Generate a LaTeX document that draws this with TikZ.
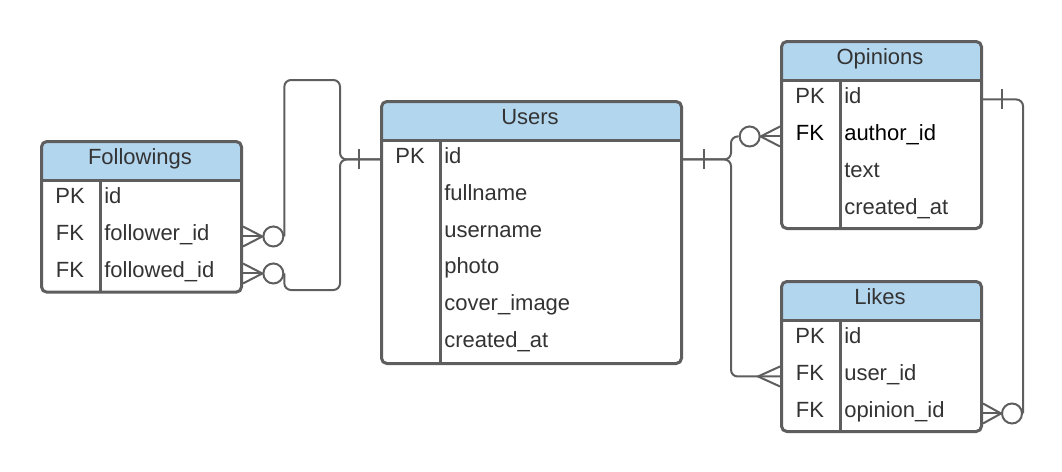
\documentclass[tikz,border=0pt]{standalone}
\usepackage{fontspec}
\setmainfont{Liberation Sans}
\usetikzlibrary{positioning}

\definecolor{headblue}{RGB}{179,214,239}
\definecolor{linegray}{RGB}{94,94,94}
\definecolor{textgray}{RGB}{51,51,51}

\begin{document}
\begin{tikzpicture}[x=0.75pt, y=-0.75pt,
  font=\fontsize{16.5}{19}\selectfont,
  tablebox/.style={draw=linegray, line width=2.25pt, fill=white, rounded corners=4pt,
    anchor=north west, inner sep=0pt,
    path picture={\fill[headblue] (path picture bounding box.north west)
      rectangle ([yshift=-30pt]path picture bounding box.north east);}},
  tblline/.style={draw=linegray, line width=2.25pt},
  conn/.style={draw=linegray, line width=1.5pt},
  ttl/.style={anchor=base, text=textgray},
  keytxt/.style={anchor=base, text=textgray},
  fieldtxt/.style={anchor=base west, inner sep=0pt, text=textgray},
  circ/.style={circle, draw=linegray, line width=1.5pt, fill=white,
    minimum size=15pt, inner sep=0pt}]

\useasboundingbox (0,0) rectangle (1062,471);

% Followings
\node[tablebox, minimum width=150pt, minimum height=113pt] (fol) at (40,140) {};
\draw[tblline] (40,180) -- (240,180);
\draw[tblline] (100,180) -- (100,291);
\node[ttl] (fol-title) at (140,164) {Followings};
\node[keytxt] (fol-pk) at (70,203) {PK};
\node[fieldtxt] (fol-id) at (104,203) {id};
\node[keytxt] (fol-fk1) at (70,240) {FK};
\node[fieldtxt] (fol-follower) at (104,240) {follower\_id};
\node[keytxt] (fol-fk2) at (70,277) {FK};
\node[fieldtxt] (fol-followed) at (104,277) {followed\_id};

% Users
\node[tablebox, minimum width=225pt, minimum height=196.5pt] (users) at (380,100) {};
\draw[tblline] (380,140) -- (680,140);
\draw[tblline] (440,140) -- (440,362);
\node[ttl] (usr-title) at (530,124) {Users};
\node[keytxt] (usr-pk) at (410,163) {PK};
\node[fieldtxt] (usr-id) at (444,163) {id};
\node[fieldtxt] (usr-fullname) at (444,200) {fullname};
\node[fieldtxt] (usr-username) at (444,237) {username};
\node[fieldtxt] (usr-photo) at (444,273.5) {photo};
\node[fieldtxt] (usr-cover) at (444,310.5) {cover\_image};
\node[fieldtxt] (usr-created) at (444,347) {created\_at};

% Opinions
\node[tablebox, minimum width=150pt, minimum height=140.25pt] (opi) at (780,40) {};
\draw[tblline] (780,80) -- (980,80);
\draw[tblline] (840,80) -- (840,227);
\node[ttl] (opi-title) at (880,64) {Opinions};
\node[keytxt] (opi-pk) at (810,103) {PK};
\node[fieldtxt] (opi-id) at (844,103) {id};
\node[keytxt, text=black] (opi-fk) at (810,140) {FK};
\node[fieldtxt, text=black] (opi-author) at (844,140) {author\_id};
\node[fieldtxt] (opi-text) at (844,177) {text};
\node[fieldtxt] (opi-created) at (844,214) {created\_at};

% Likes
\node[tablebox, minimum width=150pt, minimum height=112.5pt] (lik) at (780,280) {};
\draw[tblline] (780,320) -- (980,320);
\draw[tblline] (840,320) -- (840,430);
\node[ttl] (lik-title) at (880,304) {Likes};
\node[keytxt] (lik-pk) at (810,343) {PK};
\node[fieldtxt] (lik-id) at (844,343) {id};
\node[keytxt] (lik-fk1) at (810,380) {FK};
\node[fieldtxt] (lik-user) at (844,380) {user\_id};
\node[keytxt] (lik-fk2) at (810,417) {FK};
\node[fieldtxt] (lik-opinion) at (844,417) {opinion\_id};

% Row ends
\coordinate (usr-w) at (users.west |- usr-id.mid);
\coordinate (usr-e) at (users.east |- usr-id.mid);
\coordinate (fol-e1) at (fol.east |- fol-follower.mid);
\coordinate (fol-e2) at (fol.east |- fol-followed.mid);
\coordinate (opi-w1) at (opi.west |- opi-author.mid);
\coordinate (opi-e1) at (opi.east |- opi-id.mid);
\coordinate (lik-w1) at (lik.west |- lik-user.mid);
\coordinate (lik-e2) at (lik.east |- lik-opinion.mid);

% Circles
\node[circ, right=14.5pt of fol-e1] (c-follower) {};
\node[circ, right=14.5pt of fol-e2] (c-followed) {};
\node[circ, left=14.5pt of opi-w1] (c-author) {};
\node[circ, right=13.5pt of lik-e2] (c-opinion) {};

% Users -- Followings
\coordinate (a-top) at (340,80);
\coordinate (a-bot) at (340,290);
\draw[conn, rounded corners=5pt] (usr-w) -| (a-top) -| (c-follower.east);
\draw[conn, rounded corners=5pt] (usr-w) -| (a-bot) -| (c-followed.east);
\draw[conn] ([xshift=-15.5pt, yshift=7.5pt]usr-w) -- ([xshift=-15.5pt, yshift=-7.5pt]usr-w);
\draw[conn] (fol-e1) -- (c-follower.west);
\draw[conn] ([yshift=7.5pt]fol-e1) -- (c-follower.west) -- ([yshift=-7.5pt]fol-e1);
\draw[conn] (fol-e2) -- (c-followed.west);
\draw[conn] ([yshift=7.5pt]fol-e2) -- (c-followed.west) -- ([yshift=-7.5pt]fol-e2);

% Users -- Opinions, Likes
\coordinate (b-split) at ([xshift=36pt]usr-e);
\draw[conn, rounded corners=5pt] (usr-e) -| (b-split |- c-author) -- (c-author.west);
\draw[conn, rounded corners=5pt] (usr-e) -| (b-split |- lik-w1) -- (lik-w1);
\draw[conn] ([xshift=15.5pt, yshift=7.5pt]usr-e) -- ([xshift=15.5pt, yshift=-7.5pt]usr-e);
\draw[conn] (c-author.east) -- (opi-w1);
\draw[conn] ([yshift=7.5pt]opi-w1) -- (c-author.east) -- ([yshift=-7.5pt]opi-w1);
\draw[conn] ([yshift=7.5pt]lik-w1) -- ([xshift=-16.5pt]lik-w1) -- ([yshift=-7.5pt]lik-w1);

% Opinions -- Likes
\draw[conn, rounded corners=5pt] (opi-e1) -| (c-opinion.east);
\draw[conn] ([xshift=14.5pt, yshift=7.5pt]opi-e1) -- ([xshift=14.5pt, yshift=-7.5pt]opi-e1);
\draw[conn] (c-opinion.west) -- (lik-e2);
\draw[conn] ([yshift=7.5pt]lik-e2) -- (c-opinion.west) -- ([yshift=-7.5pt]lik-e2);

\end{tikzpicture}
\end{document}
